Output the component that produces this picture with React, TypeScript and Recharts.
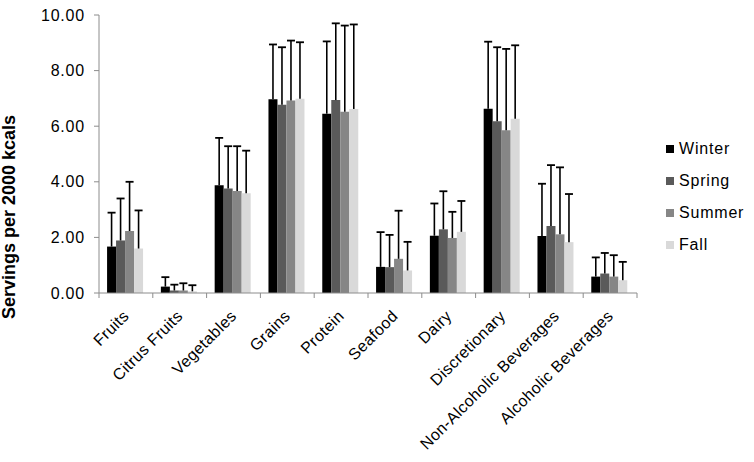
import { BarChart, Bar, XAxis, YAxis } from 'recharts'

const categories = ['Fruits', 'Citrus Fruits', 'Vegetables', 'Grains', 'Protein', 'Seafood', 'Dairy', 'Discretionary', 'Non-Alcoholic Beverages', 'Alcoholic Beverages']

const winter = [1.67, 0.23, 3.88, 6.97, 6.45, 0.94, 2.06, 6.63, 2.05, 0.59]
const winterSd = [1.22, 0.34, 1.70, 1.97, 2.60, 1.25, 1.16, 2.41, 1.88, 0.69]
const spring = [1.89, 0.09, 3.76, 6.77, 6.94, 0.93, 2.29, 6.18, 2.41, 0.70]
const springSd = [1.51, 0.21, 1.52, 2.07, 2.76, 1.16, 1.37, 2.66, 2.19, 0.74]
const summer = [2.23, 0.09, 3.67, 6.92, 6.52, 1.23, 1.98, 5.85, 2.11, 0.59]
const summerSd = [1.77, 0.26, 1.61, 2.16, 3.10, 1.73, 0.94, 2.93, 2.41, 0.77]
const fall = [1.60, 0.06, 3.59, 6.99, 6.62, 0.81, 2.20, 6.27, 1.83, 0.46]
const fallSd = [1.37, 0.22, 1.53, 2.03, 3.04, 1.03, 1.11, 2.64, 1.73, 0.66]

const yTicks = [0, 2, 4, 6, 8, 10]

const seasons = [
  { key: 'winter', name: 'Winter', color: '#000000' },
  { key: 'spring', name: 'Spring', color: '#5a5a5a' },
  { key: 'summer', name: 'Summer', color: '#868686' },
  { key: 'fall', name: 'Fall', color: '#d9d9d9' },
]

const data = categories.map((c, i) => ({
  name: c,
  winter: winter[i], winterSd: winterSd[i],
  spring: spring[i], springSd: springSd[i],
  summer: summer[i], summerSd: summerSd[i],
  fall: fall[i], fallSd: fallSd[i],
}))

const FONT = '"Liberation Sans", Arial, sans-serif'
const AXIS = '#8c8c8c'

// upward-only error whisker, drawn as a stacked segment on top of each bar
const Whisker = (props: any) => {
  const { x, y, width, height } = props
  if (height == null || isNaN(y)) return null
  const cx = x + width / 2
  return (
    <g>
      <line x1={cx} y1={y + height} x2={cx} y2={y} stroke="#000" strokeWidth={1.6} />
      <line x1={cx - 4} y1={y} x2={cx + 4} y2={y} stroke="#000" strokeWidth={1.8} />
    </g>
  )
}

// Excel-style category ticks: marks on the band boundaries, labels at 45°
const CatTick = (props: any) => {
  const { x, y, payload, index } = props
  const half = payload?.offset || 27
  const axisY = y
  const lx = x + 4
  const ly = axisY + 24
  return (
    <g>
      <line x1={x - half} y1={axisY} x2={x - half} y2={axisY + 5} stroke={AXIS} />
      {index === categories.length - 1 && (
        <line x1={x + half} y1={axisY} x2={x + half} y2={axisY + 5} stroke={AXIS} />
      )}
      <text x={lx} y={ly} textAnchor="end" transform={`rotate(-45, ${lx}, ${ly})`}
        fontSize={16} fontFamily={FONT} fill="#000" letterSpacing={0.4}>
        {payload.value}
      </text>
    </g>
  )
}

const LegendBox = () => (
  <div style={{ position: 'absolute', left: 666, top: 133, fontFamily: FONT, fontSize: 16, letterSpacing: 0.8 }}>
    {seasons.map(s => (
      <div key={s.key} style={{ display: 'flex', alignItems: 'center', height: 32 }}>
        <div style={{ width: 8, height: 8, background: s.color, marginRight: 5 }} />
        <span style={{ color: '#000' }}>{s.name}</span>
      </div>
    ))}
  </div>
)

const YTitle = () => (
  <text x={15} y={217} transform="rotate(-90, 15, 217)" textAnchor="middle"
    fontSize={18} fontWeight="bold" fontFamily={FONT} fill="#000">
    Servings per 2000 kcals
  </text>
)

export default function App() {
  return (
    <div style={{ position: 'absolute', left: 0, top: 0, width: 754, height: 462, background: '#fff' }}>
      <BarChart width={754} height={462} data={data} margin={{ top: 15, right: 117, left: 0, bottom: 0 }}
        barGap={0} barCategoryGap="15%">
        <XAxis dataKey="name" interval={0} height={169} axisLine={{ stroke: AXIS }} tickLine={false}
          tickSize={0} tickMargin={0} tick={<CatTick />} />
        <YAxis domain={[0, 10]} ticks={yTicks} width={99} axisLine={{ stroke: AXIS }}
          tickLine={{ stroke: AXIS }} tickSize={5} tickMargin={9}
          tickFormatter={(v: number) => v.toFixed(2)}
          tick={{ fontSize: 16, fill: '#000', fontFamily: FONT, letterSpacing: 0.8 }}
          label={{ content: <YTitle /> }} />
        {seasons.map(s => (
          <Bar key={s.key} dataKey={s.key} name={s.name} stackId={s.key} fill={s.color} isAnimationActive={false} />
        ))}
        {seasons.map(s => (
          <Bar key={s.key + 'Sd'} dataKey={s.key + 'Sd'} stackId={s.key} fill="none" legendType="none"
            shape={<Whisker />} isAnimationActive={false} />
        ))}
      </BarChart>
      <LegendBox />
    </div>
  )
}
